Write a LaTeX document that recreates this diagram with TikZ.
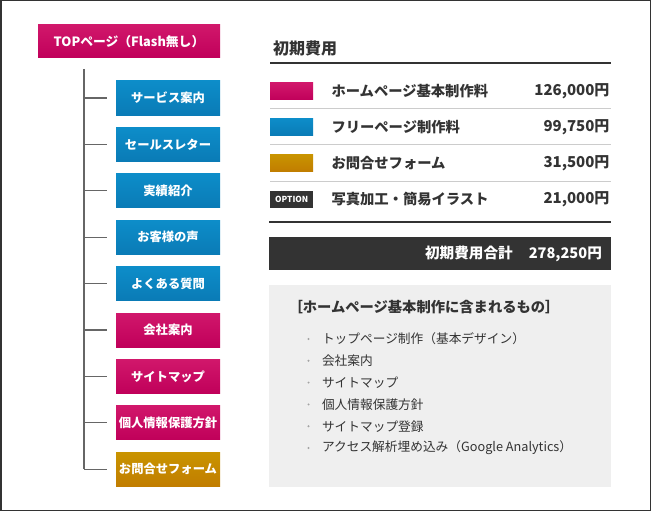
\documentclass[tikz,border=0pt]{standalone}
\usepackage{fontspec}
\setmainfont{Noto Sans CJK JP}
\usetikzlibrary{positioning}

\definecolor{pinktop}{HTML}{D1176B}
\definecolor{pinkbot}{HTML}{C0005A}
\definecolor{bluetop}{HTML}{0D8DC9}
\definecolor{bluebot}{HTML}{0A7BB6}
\definecolor{goldtop}{HTML}{C99400}
\definecolor{goldbot}{HTML}{C17D00}
\definecolor{darkbar}{HTML}{333333}
\definecolor{textdark}{HTML}{333333}
\definecolor{rulegray}{HTML}{CCCCCC}
\definecolor{boxgray}{HTML}{EFEFEF}
\definecolor{trunkgray}{HTML}{666666}

\tikzset{
  menubox/.style={minimum width=104pt, minimum height=34pt, inner sep=0pt,
    text=white, font=\fontsize{12.3}{14}\selectfont\bfseries},
  pinkbox/.style={menubox, top color=pinktop, bottom color=pinkbot},
  bluebox/.style={menubox, top color=bluetop, bottom color=bluebot},
  goldbox/.style={menubox, top color=goldtop, bottom color=goldbot},
  trunk/.style={draw=trunkgray, line width=1.2pt},
  swatch/.style={minimum width=43pt, minimum height=17pt, inner sep=0pt, anchor=west},
  itemtext/.style={anchor=west, text=textdark, font=\fontsize{14.3}{16}\selectfont\bfseries},
  pricetext/.style={anchor=east, text=textdark, font=\fontsize{15}{17}\selectfont\bfseries},
  listitem/.style={anchor=west, text=textdark, font=\fontsize{12.7}{14}\selectfont},
}

\begin{document}
\begin{tikzpicture}[x=1pt, y=-1pt]
  \useasboundingbox (0,0) rectangle (651,511);
  \draw[darkbar, line width=1.5pt] (0.75,0.75) rectangle (650.25,510.25);

  % site map
  \node[pinkbox, minimum width=182pt, minimum height=33pt,
    font=\fontsize{12.8}{14}\selectfont\bfseries] (top) at (129,41.5)
    {TOPページ（Flash無し）};
  \coordinate (trunktop) at (84,69);
  \foreach \txt/\kind [count=\i] in {サービス案内/bluebox, セールスレター/bluebox,
      実績紹介/bluebox, お客様の声/bluebox, よくある質問/bluebox,
      会社案内/pinkbox, サイトマップ/pinkbox, 個人情報保護方針/pinkbox,
      お問合せフォーム/goldbox} {
    \node[\kind] (menu\i) at (168,{98+(\i-1)*46.4}) {\txt};
    \coordinate (tick\i) at (84,{98+(\i-1)*46.4});
    \draw[trunk] (tick\i) -- ([xshift=-9pt]menu\i.west);
  }
  \draw[trunk] (trunktop) -- (tick9);

  % initial cost
  \node[anchor=west, text=textdark, font=\fontsize{16}{18}\selectfont\bfseries]
    (costhead) at (269.5,48) {初期費用};
  \draw[darkbar, line width=1.3pt] (270,63) -- (611,63);

  \node[swatch, top color=pinktop, bottom color=pinkbot] (sw1) at (270,91.5) {};
  \node[swatch, top color=bluetop, bottom color=bluebot] (sw2) at (270,127) {};
  \node[swatch, top color=goldtop, bottom color=goldbot] (sw3) at (270,163) {};
  \node[swatch, fill=darkbar, text=white, font=\fontsize{8.3}{9}\selectfont\bfseries]
    (sw4) at (270,199) {OPTION};

  \node[itemtext] (item1) at (328,91.5) {ホームページ基本制作料};
  \node[itemtext] (item2) at (328,127) {フリーページ制作料};
  \node[itemtext] (item3) at (328,163) {お問合せフォーム};
  \node[itemtext] (item4) at (328,199) {写真加工・簡易イラスト};

  \node[pricetext] (price1) at (613,91.5) {126,000円};
  \node[pricetext] (price2) at (613,127) {99,750円};
  \node[pricetext] (price3) at (613,163) {31,500円};
  \node[pricetext] (price4) at (613,199) {21,000円};

  \foreach \y in {108.5,144.5,181} {
    \draw[rulegray, line width=0.8pt] (270,\y) -- (611,\y);
  }
  \draw[darkbar, line width=2pt] (269,222) -- (611,222);

  % total
  \node[fill=darkbar, minimum width=342pt, minimum height=33pt, inner sep=0pt,
    anchor=north west] (total) at (269,237) {};
  \node[anchor=east, text=white, font=\fontsize{14.6}{16}\selectfont\bfseries]
    (totaltext) at ([xshift=-6pt]total.east) {初期費用合計\hspace{1.1em}278,250円};

  % included items
  \node[fill=boxgray, minimum width=342pt, minimum height=202pt, inner sep=0pt,
    anchor=north west] (incl) at (269,285) {};
  \node[anchor=west, text=textdark, font=\fontsize{14.3}{16}\selectfont\bfseries]
    (inclhead) at (285,307) {［ホームページ基本制作に含まれるもの］};
  \foreach \txt [count=\i] in {トップページ制作（基本デザイン）, 会社案内, サイトマップ,
      個人情報保護方針, サイトマップ登録, アクセス解析埋め込み（Google Analytics）} {
    \fill[rulegray!80!black] (308.5,{339+(\i-1)*21.8}) circle (1.1pt);
    \node[listitem] (list\i) at (318.5,{339+(\i-1)*21.8}) {\txt};
  }
\end{tikzpicture}
\end{document}
